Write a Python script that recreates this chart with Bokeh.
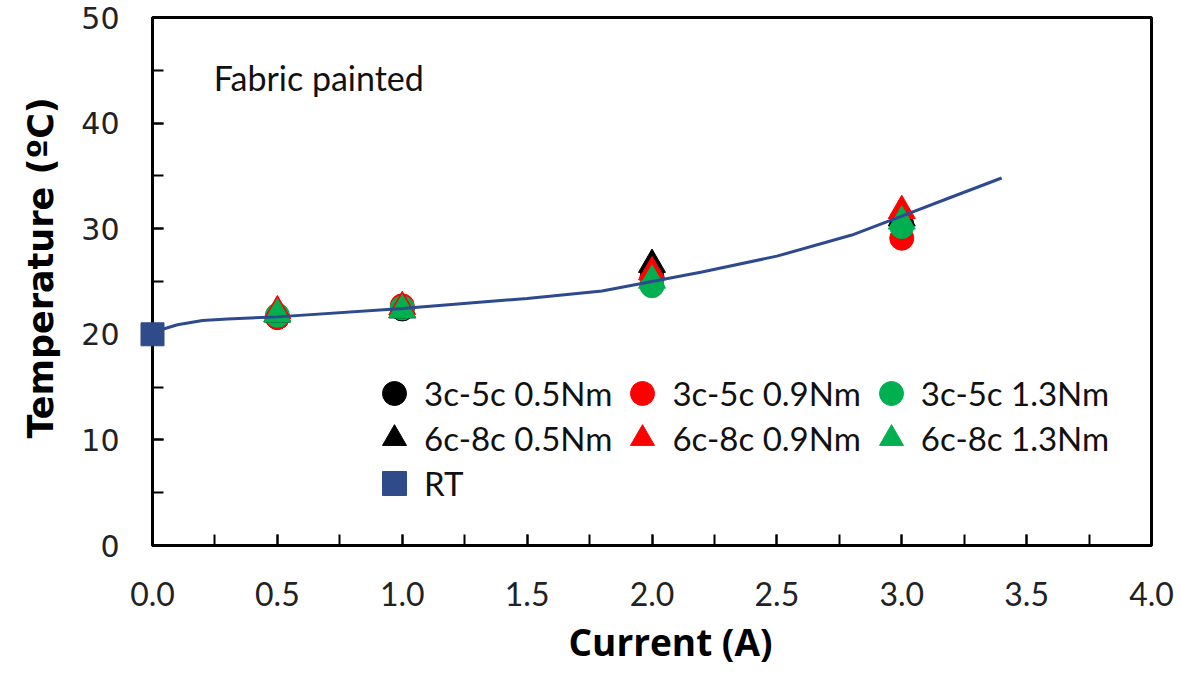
from bokeh.plotting import figure
from bokeh.models import Range1d, SingleIntervalTicker, Legend, LegendItem, Label, Title
from bokeh.embed import file_html
from bokeh.resources import INLINE

# ---- data ----
current = [0.5, 1.0, 2.0, 3.0]
c35_05 = [21.6, 22.4, 25.4, 30.4]
c35_09 = [21.6, 22.7, 25.2, 29.1]
c35_13 = [21.8, 22.5, 24.6, 30.2]
c68_05 = [21.9, 22.3, 26.6, 31.0]
c68_09 = [22.2, 22.6, 25.9, 31.7]
c68_13 = [21.9, 22.3, 25.1, 30.7]

rt_x = [0.0]
rt_y = [20.0]

fit_x = [0.0, 0.1, 0.2, 0.3, 0.5, 1.0, 1.5, 1.8, 2.0, 2.2, 2.5, 2.8, 3.0, 3.2, 3.4]
fit_y = [20.2, 20.9, 21.3, 21.45, 21.65, 22.45, 23.4, 24.1, 25.0, 25.9, 27.4, 29.4, 31.2, 33.0, 34.8]

x_ticks = [0.0, 0.5, 1.0, 1.5, 2.0, 2.5, 3.0, 3.5, 4.0]
y_ticks = [0, 10, 20, 30, 40, 50]

BLACK = "#000000"
RED = "#FF0000"
GREEN = "#00B050"
BLUE = "#2F4B8A"
LINE_BLUE = "#2E4A8E"

p = figure(width=1180, height=674, x_range=Range1d(0, 4), y_range=Range1d(0, 50),
           output_backend="svg", toolbar_location=None,
           min_border_left=146, min_border_right=29, min_border_top=17, min_border_bottom=129)
p.xgrid.visible = False
p.ygrid.visible = False
p.outline_line_color = "black"
p.outline_line_width = 3
p.background_fill_color = "white"
p.border_fill_color = "white"

# markers
r_c1 = p.scatter(current, c35_05, marker="circle", size=24, fill_color=BLACK, line_color=BLACK)
r_c2 = p.scatter(current, c35_09, marker="circle", size=24, fill_color=RED, line_color=RED)
r_c3 = p.scatter(current, c35_13, marker="circle", size=24, fill_color=GREEN, line_color=GREEN)
r_t1 = p.scatter(current, c68_05, marker="triangle", size=27, fill_color=BLACK, line_color=BLACK)
r_t2 = p.scatter(current, c68_09, marker="triangle", size=27, fill_color=RED, line_color=RED)
r_t3 = p.scatter(current, c68_13, marker="triangle", size=27, fill_color=GREEN, line_color=GREEN)

p.line(fit_x, fit_y, line_color=LINE_BLUE, line_width=3)
r_rt = p.scatter(rt_x, rt_y, marker="square", size=23, fill_color=BLUE, line_color=BLUE,
                 level="overlay")

# axes
xa = p.xaxis[0]
xa.ticker = SingleIntervalTicker(interval=0.5, num_minor_ticks=2)
xa.major_label_overrides = {v: f"{v:.1f}" for v in x_ticks}
ya = p.yaxis[0]
ya.ticker = SingleIntervalTicker(interval=10, num_minor_ticks=2)

for ax in (xa, ya):
    ax.axis_line_width = 3
    ax.axis_line_color = "black"
    ax.major_tick_in = 11
    ax.major_tick_out = 0
    ax.minor_tick_in = 11
    ax.minor_tick_out = 0
    ax.major_tick_line_width = 2
    ax.minor_tick_line_width = 2
    ax.major_tick_line_color = "black"
    ax.minor_tick_line_color = "black"
    ax.major_label_text_color = "#222222"

xa.major_label_text_font = "Lato"
xa.major_label_text_font_size = "32px"
xa.major_label_standoff = 36

ya.major_label_text_font = "DejaVu Sans"
ya.major_label_text_font_size = "30px"
ya.major_label_standoff = 33

# axis titles as side titles (offset lets them sit off-centre like the reference)
p.add_layout(Title(text="Current (A)", align="left", offset=416, standoff=10,
                   text_font="Open Sans", text_font_style="bold",
                   text_font_size="37px", text_color="black"), "below")
p.add_layout(Title(text="Temperature (ºC)", align="left", offset=107, standoff=36,
                   text_font="DejaVu Sans", text_font_style="bold",
                   text_font_size="35px", text_color="black"), "left")

# text label
p.add_layout(Label(x=0.245, y=44.3, text="Fabric painted", text_font="Lato",
                   text_font_size="34px", text_baseline="middle", text_color="#111111"))

# legends (three rows)
rows = [
    [("3c-5c 0.5Nm", r_c1), ("3c-5c 0.9Nm", r_c2), ("3c-5c 1.3Nm", r_c3)],
    [("6c-8c 0.5Nm", r_t1), ("6c-8c 0.9Nm", r_t2), ("6c-8c 1.3Nm", r_t3)],
    [("RT", r_rt)],
]
row_vy = [122, 77, 32]
for items, vy in zip(rows, row_vy):
    lg = Legend(items=[LegendItem(label=t, renderers=[r]) for t, r in items],
                orientation="horizontal", location=(212, vy),
                glyph_width=60, glyph_height=60, label_standoff=0, label_width=150,
                spacing=-4, padding=0, margin=0, border_line_color=None,
                background_fill_alpha=0, label_text_font="Lato",
                label_text_font_size="33px", label_text_color="#111111")
    p.add_layout(lg)

open("out.html", "w").write(file_html(p, INLINE))
